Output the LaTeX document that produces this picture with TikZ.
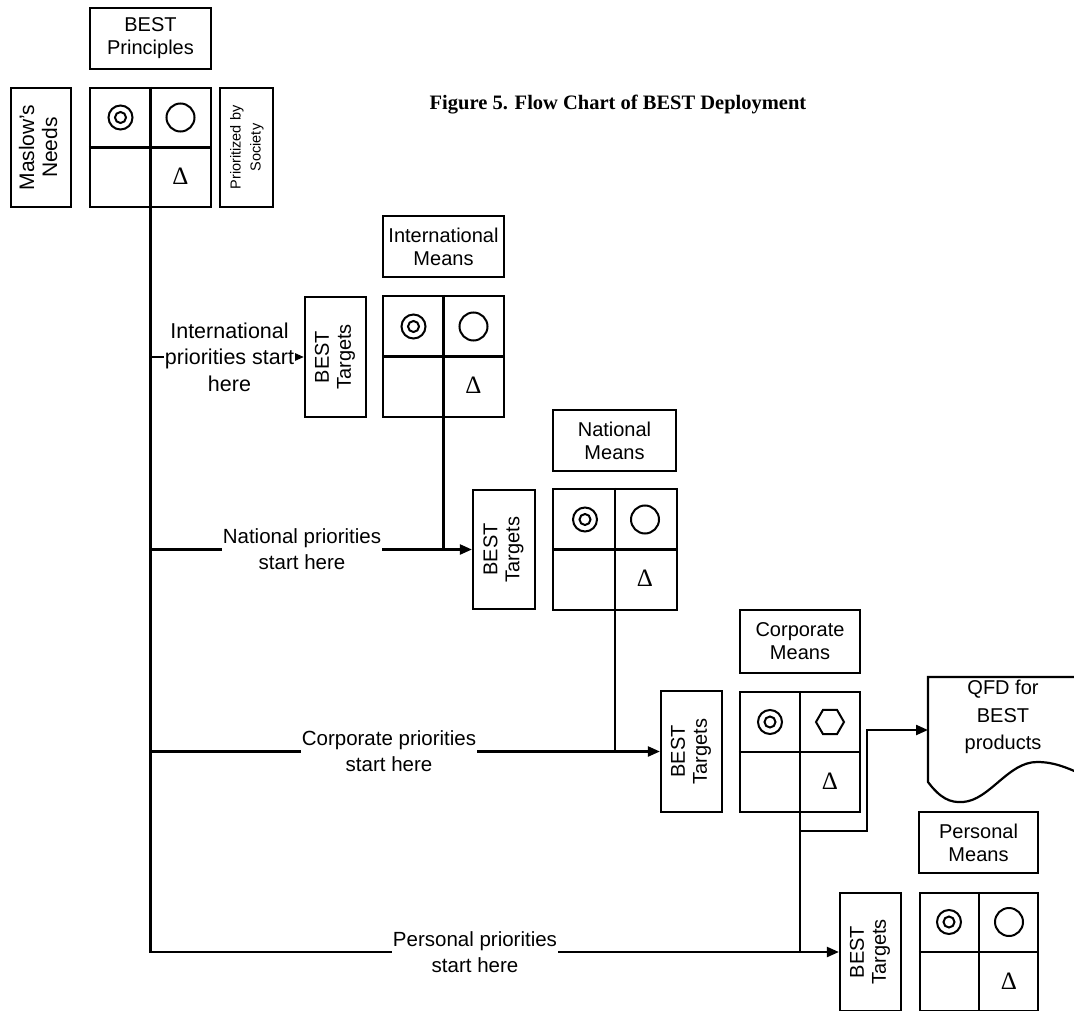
\documentclass[tikz,border=0pt]{standalone}
\usepackage{fontspec}
\setmainfont{Liberation Sans}
\newfontfamily\bserif{Liberation Serif}
\usetikzlibrary{arrows.meta,calc,shapes.geometric}
\tikzset{
  >={Triangle[length=12pt,width=10pt]},
  bline/.style={line width=2.2pt},
  bbox/.style={draw, bline, rectangle, inner sep=1pt, align=center,
               font=\fontsize{20}{23}\selectfont},
  btarget/.style={bbox, minimum width=61, minimum height=120,
                  font=\fontsize{20}{22}\selectfont},
  bgrid/.style={draw, bline, rectangle, inner sep=0pt},
  blbl/.style={fill=white, inner sep=1pt, align=center,
               font=\fontsize{20.5}{26}\selectfont},
  bflow/.style={->, bline},
  bmark/.style={draw, line width=2pt, inner sep=0pt},
  bcirc/.style={circle},
  bhex/.style={regular polygon, regular polygon sides=6},
}
\newcommand\bvert[1]{\rotatebox{90}{\begin{tabular}{@{}c@{}}#1\end{tabular}}}

\begin{document}
\begin{tikzpicture}[x=1pt,y=-1pt]
  \useasboundingbox (0,0) rectangle (1074,1011);

  % title
  \node[font=\bserif\bfseries\fontsize{20.5}{24}\selectfont] (title) at (618,105)
    {Figure 5. Flow Chart of BEST Deployment};

  % --- BEST principles ---
  \node[bbox, minimum width=121, minimum height=61] (prin) at (150.5,38.5) {BEST\\Principles};
  \node[bgrid, minimum width=121, minimum height=119] (pgrid) at (150.5,147.5) {};
  \node[bbox, minimum width=60, minimum height=119, font=\fontsize{21}{23}\selectfont]
    (maslow) at (41,147.5) {\bvert{Maslow’s\\Needs}};
  \node[bbox, minimum width=53, minimum height=119, font=\fontsize{14.5}{20}\selectfont]
    (society) at (246.5,147.5) {\bvert{Prioritized by\\Society}};

  % --- international ---
  \node[bbox, minimum width=121, minimum height=61] (imeans) at (443.5,246.5) {International\\Means};
  \node[bgrid, minimum width=121, minimum height=121] (igrid) at (443.5,356.5) {};
  \node[btarget] (itgt) at (335.5,357) {\bvert{BEST\\Targets}};

  % --- national ---
  \node[bbox, minimum width=123, minimum height=61] (nmeans) at (614.5,440.5) {National\\Means};
  \node[bgrid, minimum width=124, minimum height=121] (ngrid) at (615,549.5) {};
  \node[btarget, minimum width=62, minimum height=119] (ntgt) at (504,549.5) {\bvert{BEST\\Targets}};

  % --- corporate ---
  \node[bbox, minimum width=120, minimum height=63] (cmeans) at (800,641.5) {Corporate\\Means};
  \node[bgrid, minimum width=120, minimum height=120] (cgrid) at (800,752) {};
  \node[btarget, minimum height=121] (ctgt) at (691.5,751.5) {\bvert{BEST\\Targets}};

  % --- personal ---
  \node[bbox, minimum width=119, minimum height=61] (smeans) at (978.5,842.5) {Personal\\Means};
  \node[bgrid, minimum width=118, minimum height=118] (sgrid) at (979,952) {};
  \node[btarget, minimum height=118] (stgt) at (870.5,952) {\bvert{BEST\\Targets}};

  % grid cells and marks
  \foreach \g/\shp in {pgrid/bcirc, igrid/bcirc, ngrid/bcirc, cgrid/bhex, sgrid/bcirc} {
    \draw[bline] (\g.north) -- (\g.south);
    \draw[bline] (\g.west) -- (\g.east);
    \node[bmark, circle, minimum size=24] (\g-dc) at ($(\g.center)+(-30,-30)$) {};
    \node[bmark, circle, minimum size=11] (\g-in) at (\g-dc) {};
    \node[bmark, \shp, minimum size=28] (\g-o) at ($(\g.center)+(30,-30)$) {};
    \node[font=\bserif\fontsize{25}{25}\selectfont] (\g-d) at ($(\g.center)+(30,29)$) {Δ};
  }

  % QFD document
  \draw[bline] (1090,677) -- (928,677) -- (928,782)
    .. controls (940,798) and (950,803) .. (963,802)
    .. controls (990,800) and (1008,762) .. (1037,762)
    .. controls (1055,762) and (1068,768) .. (1090,778);
  \node[align=center, font=\fontsize{20}{27.5}\selectfont] (qfd) at (1003,717)
    {QFD for\\BEST\\products};

  % flow lines
  \draw[bflow] (pgrid.south) |- (stgt.west);
  \draw[bflow] (pgrid.south |- itgt.west) -- (itgt.west);
  \draw[bflow] (pgrid.south |- ntgt.west) -- (ntgt.west);
  \draw[bflow] (pgrid.south |- ctgt.west) -- (ctgt.west);
  \draw[bline] (igrid.south) -- (igrid.south |- ntgt.west);
  \draw[bline] (ngrid.south) -- (ngrid.south |- ctgt.west);
  \draw[bline] (cgrid.south) -- (cgrid.south |- stgt.west);
  \coordinate (qsplit) at ($(cgrid.south)+(0,18)$);
  \coordinate (qbend) at ($(qsplit)+(67,0)$);
  \coordinate (qfdin) at (928,730);
  \draw[bflow] (qsplit) -- (qbend) |- (qfdin);

  % labels on the lines
  \node[blbl, font=\fontsize{21.5}{26.5}\selectfont] (ilbl) at (229.5,357)
    {International\\priorities start\\here};
  \node[blbl] (nlbl) at (302,549) {National priorities\\start here};
  \node[blbl] (clbl) at (389,751) {Corporate priorities\\start here};
  \node[blbl] (slbl) at (475,952) {Personal priorities\\start here};
\end{tikzpicture}
\end{document}
